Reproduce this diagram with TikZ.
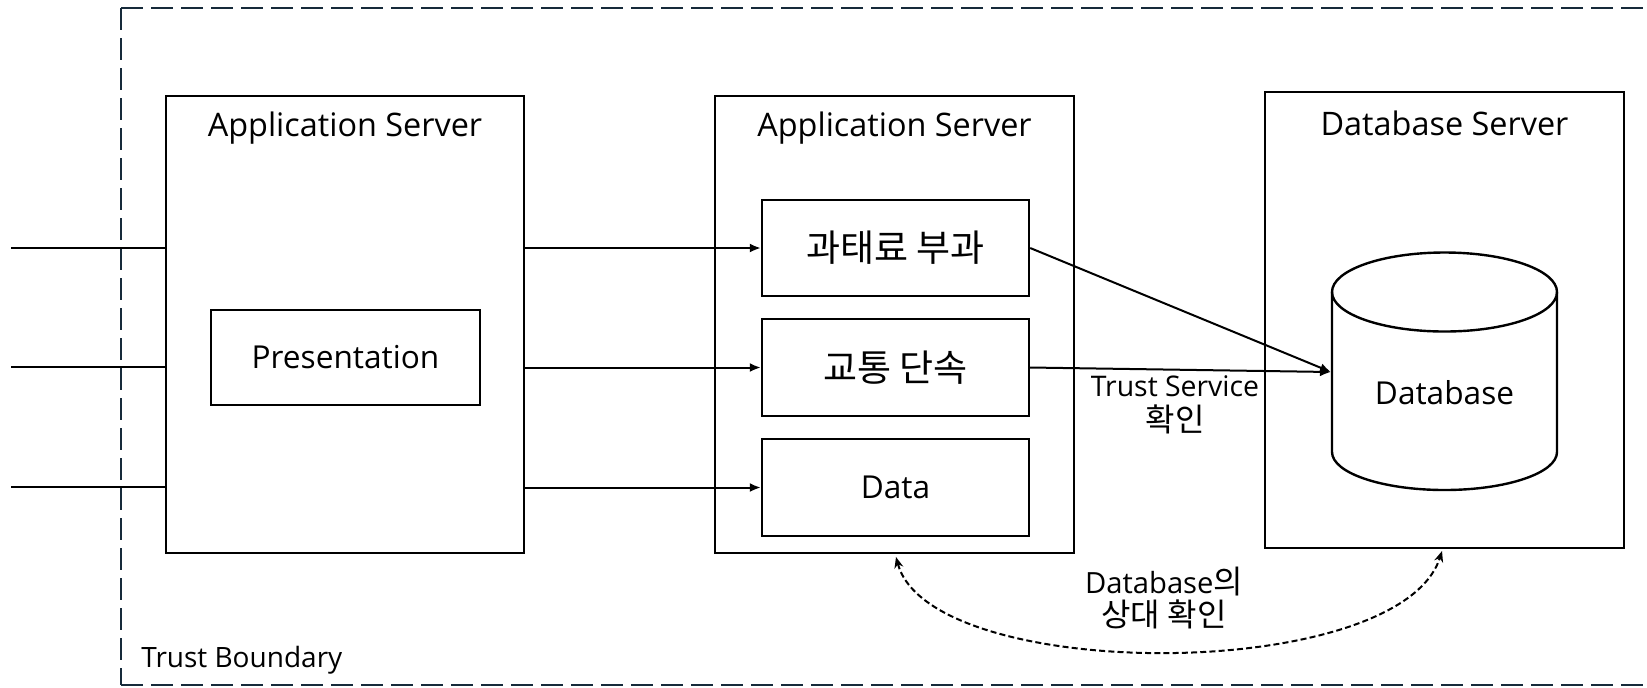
\documentclass[tikz,border=0pt]{standalone}
\usepackage{fontspec}
\setmainfont{Open Sans}
\newfontfamily\kr{Noto Sans CJK KR}
\usetikzlibrary{arrows.meta,fit}
\definecolor{bnd}{RGB}{22,42,58}
\newcommand{\krbig}{\kr\fontsize{18.5}{21}\selectfont}
\newcommand{\krsmall}{\kr\fontsize{16}{18}\selectfont}
\tikzset{
  box/.style={draw=black, line width=1.2pt, inner sep=0pt, fill=white},
  ttl/.style={font=\fontsize{16.2}{19}\selectfont, inner sep=0pt},
  lbl/.style={font=\fontsize{15.8}{19}\selectfont, inner sep=0pt},
  wire/.style={line width=1pt},
  arr/.style={line width=1pt, -{Latex[length=5.5pt,width=4.5pt]}},
  boundary/.style={draw=bnd, line width=1.4pt, dash pattern=on 11pt off 4pt},
  mutual/.style={line width=1pt, dash pattern=on 3pt off 1.6pt, {Stealth[length=5.5pt,width=4.5pt]}-{Stealth[length=5.5pt,width=4.5pt]}}
}
\begin{document}
\begin{tikzpicture}[x=0.5pt,y=-0.5pt]
\useasboundingbox (0,0) rectangle (1647,687);
\clip (0,0) rectangle (1647,687);
% trust boundary
\draw[boundary] (121,8) -- (1700,8);
\draw[boundary] (121,685) -- (1700,685);
\draw[boundary] (121,8) -- (121,685);
\node[font=\fontsize{14}{17}\selectfont, anchor=base west, inner sep=0pt] (tb) at (141,667) {Trust Boundary};

% application server 1
\node[box, fit={(166,96) (524,553)}] (app1) {};
\node[ttl] (app1t) at (345,128) {Application Server};
\node[box, fit={(211,310) (480,405)}] (pres) {};
\node[lbl] (prest) at (pres.center) {Presentation};

% application server 2
\node[box, fit={(715,96) (1074,553)}] (app2) {};
\node[ttl] (app2t) at (894.5,128) {Application Server};
\node[box, fit={(762,200) (1029,296)}] (b1) {};
\node[lbl] (b1t) at (b1.center) {\krbig 과태료 부과};
\node[box, fit={(762,319) (1029,416)}] (b2) {};
\node[lbl] (b2t) at (b2.center) {\krbig 교통 단속};
\node[box, fit={(762,439) (1029,536)}] (b3) {};
\node[lbl] (b3t) at (b3.center) {Data};

% database server
\node[box, fit={(1265,92) (1624,548)}] (dbs) {};
\node[ttl] (dbst) at (1444.5,123) {Database Server};
\filldraw[fill=white, draw=black, line width=1.2pt]
  (1332,292) -- (1332,452) arc[start angle=180, end angle=360, x radius=56.25pt, y radius=19pt] -- (1557,292);
\draw[line width=1.2pt] (1444.5,292) ellipse [x radius=56.25pt, y radius=19.75pt];
\node[lbl] (dbt) at (1444.5,393) {Database};
\coordinate (dbin) at (1331,372);

% inputs
\coordinate (in1) at (11,248);
\coordinate (in2) at (11,367);
\coordinate (in3) at (11,487);
\draw[wire] (in1) -- (in1 -| app1.west);
\draw[wire] (in2) -- (in2 -| app1.west);
\draw[wire] (in3) -- (in3 -| app1.west);
\draw[arr] (b1.west -| app1.east) -- (b1.west);
\draw[arr] (b2.west -| app1.east) -- (b2.west);
\draw[arr] (b3.west -| app1.east) -- (b3.west);

% to database
\draw[arr] (b1.east) -- (dbin);
\draw[arr] (b2.east) -- (dbin);
\node[lbl, align=center, font=\fontsize{14.2}{17.5}\selectfont] (ts) at (1175,405) {Trust Service\\{\krsmall 확인}};

% mutual check
\coordinate (m1) at (896,557);
\coordinate (m2) at (1442,551);
\draw[mutual] (m1) .. controls (930,684) and (1400,684) .. (m2);
\node[lbl, align=center, font=\fontsize{14.6}{16.5}\selectfont] (mt) at (1164,598) {Database{\krsmall 의}\\{\krsmall 상대 확인}};
\end{tikzpicture}
\end{document}
